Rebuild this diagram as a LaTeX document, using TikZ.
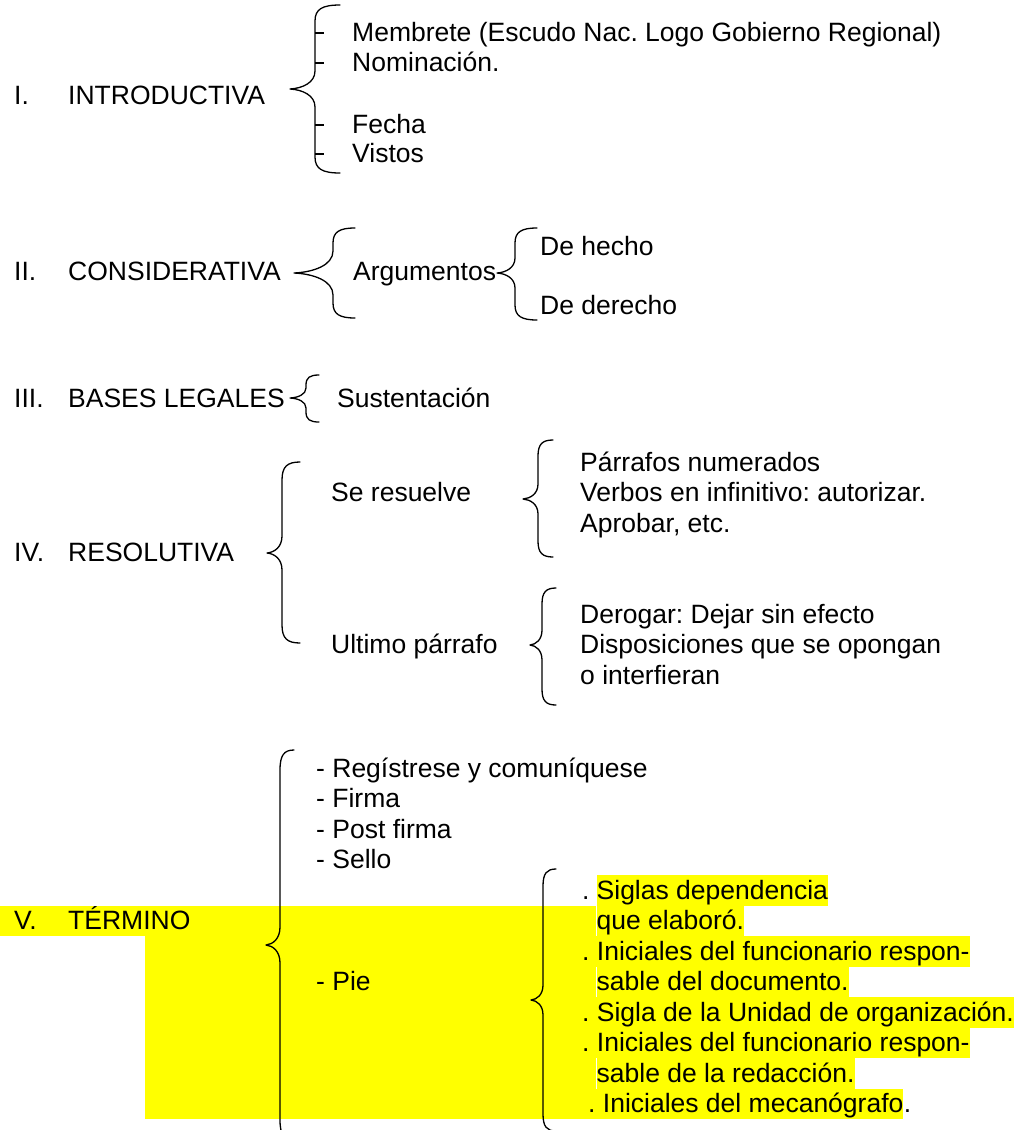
\documentclass[tikz,border=0pt]{standalone}
\usepackage{fontspec}
\setmainfont{Liberation Sans}
\definecolor{hl}{RGB}{255,255,0}
% #1 line x, #2 tip x, #3 end x, #4 top y, #5 mid y, #6 bottom y, #7 end curl, #8 tip curl
\newcommand{\mybrace}[8]{%
  \draw[brc] (#3,#4) .. controls ({#1+0.3*(#3-#1)},#4) and (#1,{#4+0.25*#7}) .. (#1,#4+#7) -- (#1,#5-#8)
    .. controls (#1,{#5-0.35*#8}) and ({#2+0.5*(#1-#2)},{#5-0.04*#8}) .. (#2,#5)
    .. controls ({#2+0.5*(#1-#2)},{#5+0.04*#8}) and (#1,{#5+0.35*#8}) .. (#1,#5+#8)
    -- (#1,#6-#7) .. controls (#1,{#6-0.25*#7}) and ({#1+0.3*(#3-#1)},#6) .. (#3,#6);}
\begin{document}
\begin{tikzpicture}[x=1pt,y=-1pt,
  txt/.style={anchor=base west, inner sep=0pt, font=\fontsize{26.5}{30.5}\selectfont\frenchspacing},
  hltxt/.style={txt, fill=hl, text height=24pt, text depth=6.5pt},
  brc/.style={line width=1.3pt, line cap=round, line join=round},
  tick/.style={line width=1.3pt}]
\useasboundingbox (0,0) rectangle (1016,1130);
\clip (0,0) rectangle (1016,1130);

% ---------- I ----------
\node[txt] (n1) at (14,104) {I.};
\node[txt] (t1) at (68,104) {INTRODUCTIVA};
\mybrace{315}{290}{340}{5}{89}{173}{16}{18}
\foreach \yy in {33,63,125,154} \draw[tick] (315,\yy) -- (324,\yy);
\node[txt] (i1) at (352,41) {Membrete (Escudo Nac. Logo Gobierno Regional)};
\node[txt] (i2) at (352,71) {Nominación.};
\node[txt] (i3) at (352,133) {Fecha};
\node[txt] (i4) at (352,162) {Vistos};

% ---------- II ----------
\node[txt] (n2) at (14,280) {II.};
\node[txt] (t2) at (68,280) {CONSIDERATIVA};
\mybrace{333}{294}{355}{228}{273}{318}{15}{22}
\node[txt] (arg) at (353,280) {Argumentos};
\mybrace{515}{497}{537}{228}{273}{320}{15}{15}
\node[txt] (h1) at (540,255) {De hecho};
\node[txt] (h2) at (540,314) {De derecho};

% ---------- III ----------
\node[txt] (n3) at (14,407) {III.};
\node[txt] (t3) at (68,407) {BASES LEGALES};
\mybrace{306}{290}{319}{375}{398}{422}{10}{10}
\node[txt] (sus) at (337,407) {Sustentación};

% ---------- IV ----------
\node[txt] (n4) at (14,561) {IV.};
\node[txt] (t4) at (68,561) {RESOLUTIVA};
\mybrace{282}{267}{300}{462}{553}{643}{18}{17}
\node[txt] (sr) at (331,501) {Se resuelve};
\node[txt] (up) at (331,653) {Ultimo párrafo};
\mybrace{538}{523}{553}{440}{499}{557}{16}{15}
\node[txt] (r1) at (580,471) {Párrafos numerados};
\node[txt] (r2) at (580,501.5) {Verbos en infinitivo: autorizar.};
\node[txt] (r3) at (580,532) {Aprobar, etc.};
\mybrace{542}{530}{556}{588}{645}{705}{16}{15}
\node[txt] (u1) at (580,623) {Derogar: Dejar sin efecto};
\node[txt] (u2) at (580,653.5) {Disposiciones que se opongan};
\node[txt] (u3) at (580,684) {o interfieran};

% ---------- V ----------
\fill[hl] (0,905.8) rectangle (145,936.3);
\fill[hl] (145,905.8) rectangle (596,1119.3);
\node[txt] (n5) at (14,929.8) {V.};
\node[txt] (t5) at (68,929.8) {TÉRMINO};
\mybrace{280}{266}{294}{750}{945}{1140}{20}{18}
\node[txt] (v1) at (316,777.3) {- Regístrese y comuníquese};
\node[txt] (v2) at (316,807.8) {- Firma};
\node[txt] (v3) at (316,838.3) {- Post firma};
\node[txt] (v4) at (316,868.8) {- Sello};
\node[txt] (v5) at (316,990.8) {- Pie};
\mybrace{543}{531}{556}{869}{1000}{1131}{17}{15}
\node[txt] (d1) at (582,899.3) {.};
\node[hltxt] (p1) at (596.5,899.3) {Siglas dependencia};
\node[hltxt] (p2) at (596.5,929.8) {que elaboró.};
\node[hltxt] (p3) at (582,960.3) {. Iniciales del funcionario respon-};
\node[hltxt] (p4) at (596.5,990.8) {sable del documento.};
\node[hltxt] (p5) at (582,1021.3) {. Sigla de la Unidad de organización.};
\node[hltxt] (p6) at (582,1051.8) {. Iniciales del funcionario respon-};
\node[hltxt] (p7) at (596.5,1082.3) {sable de la redacción.};
\node[hltxt] (p8) at (588,1112.8) {. Iniciales del mecanógrafo};
\node[txt, anchor=base west] (p8e) at (p8.base east) {.};
\end{tikzpicture}
\end{document}
